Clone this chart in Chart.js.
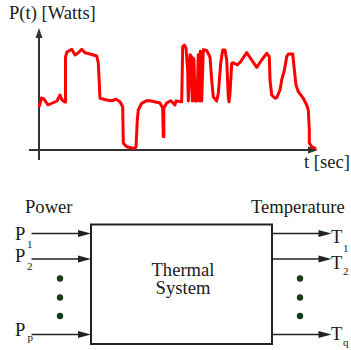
<!DOCTYPE html>
<html>
<head>
<meta charset="utf-8">
<title>Thermal System</title>
<script src="https://cdn.jsdelivr.net/npm/chart.js"></script>
<style>
  body { margin: 0; background: #fff; }
  #wrap { position: relative; width: 351px; height: 350px; }
  #diagram, #chart { position: absolute; left: 0; top: 0; }
  #diagram text { font-family: 'Liberation Serif', 'Times New Roman', Times, serif; fill: #1a1a1a; }
  .big { font-size: 18.6px; }
  .sub { font-size: 11px; }
</style>
</head>
<body>
<div id="wrap">
  <svg id="diagram" width="351" height="350">
    <!-- axis labels of the power trace -->
    <text class="big" x="9" y="18.5">P(t) [Watts]</text>
    <text class="big" x="304" y="167.5">t [sec]</text>

    <!-- block diagram -->
    <text class="big" x="25" y="213">Power</text>
    <text class="big" x="251" y="213">Temperature</text>
    <rect x="91" y="224.5" width="181" height="119.5" fill="none" stroke="#222" stroke-width="2"/>
    <text class="big" x="183" y="276" text-anchor="middle">Thermal</text>
    <text class="big" x="183" y="293.5" text-anchor="middle">System</text>
    <g id="arrows"></g>

    <text class="big" x="15" y="239.5">P</text><text class="sub" x="27" y="248">1</text>
    <text class="big" x="15" y="262">P</text><text class="sub" x="27" y="269.5">2</text>
    <text class="big" x="15" y="335.5">P</text><text class="sub" x="27.5" y="341">p</text>

    <text class="big" x="331" y="242.5">T</text><text class="sub" x="343" y="252">1</text>
    <text class="big" x="331" y="269">T</text><text class="sub" x="343" y="275">2</text>
    <text class="big" x="331" y="340">T</text><text class="sub" x="343" y="346">q</text>
  </svg>
  <canvas id="chart" width="351" height="175"></canvas>
</div>

<script>
  // power trace (t in px-like units, P in px-like units)
  var timeSec = [0.3, 2.5, 5, 9, 18, 21, 23, 26, 26.5, 28,
    32.7, 36, 39, 42.7, 46, 51, 57.7, 59.3, 61, 67.7,
    72.7, 77, 81, 83.7, 84.3, 87.7, 94.3, 97, 98.3, 99.3,
    102.7, 107.7, 111, 121, 123.7, 124.3, 124.8, 127.7, 131.7, 136,
    137, 142.7, 143.7, 145.3, 147, 148.7, 149.3, 151, 152, 153.3,
    154, 155, 156, 158, 159.3, 160, 160.7, 161.3, 162.7, 164.3,
    167.7, 171, 172.7, 174.3, 177.7, 179.3, 181.7, 183.7, 186, 187.7,
    189.3, 190, 191, 192.7, 194.3, 198.3, 201.7, 207.7, 212.7, 217.7,
    222.7, 227.7, 230.3, 231, 232.7, 236, 237.7, 241, 242.7, 245,
    246, 247.7, 249.3, 253.7, 255, 257, 259.3, 264.3, 267.7, 269.3,
    270.3, 270.3, 272.7, 276];
  var powerW = [44, 52, 51, 45, 49, 55, 50, 48, 93, 98,
    100.7, 95, 97, 100.7, 97.3, 96, 94, 87, 51.7, 50,
    49.3, 50.7, 48.3, 43.3, 6.7, 3.3, 1.7, 2.7, 30, 40,
    46.7, 49.3, 49.3, 47, 42, 13.3, 42, 47, 49.3, 45,
    49, 48.3, 103.5, 105, 102, 79, 49, 95.3, 94, 49,
    92, 90, 49, 49, 95.3, 94, 49, 98.7, 49, 100.3,
    99.5, 93, 70, 53, 49, 56.7, 86.7, 100, 100, 90,
    53.3, 48.3, 56.7, 86.7, 87.3, 85, 88.3, 97.3, 90, 82.7,
    90, 96.7, 93.3, 70, 55, 51.7, 52.3, 60, 70, 78.3,
    83.3, 93.3, 96, 96, 83.3, 65, 58.3, 51.7, 45, 40,
    20, 7, 3.3, 1.7];

  // block diagram rows
  var inputRows = [233.5, 259, 334.5];
  var outputRows = [233.5, 259, 334.5];
  var dotRows = [278.5, 297.5, 316];

  var svgNS = 'http://www.w3.org/2000/svg';
  var g = document.getElementById('arrows');
  function add(tag, attrs) {
    var el = document.createElementNS(svgNS, tag);
    for (var k in attrs) el.setAttribute(k, attrs[k]);
    g.appendChild(el);
  }
  function arrow(x1, x2, y) {
    add('line', { x1: x1, y1: y, x2: x2 - 12, y2: y, stroke: '#222', 'stroke-width': 1.5 });
    add('polygon', { points: (x2 - 13) + ',' + (y - 3.5) + ' ' + x2 + ',' + y + ' ' + (x2 - 13) + ',' + (y + 3.5), fill: '#222' });
  }
  inputRows.forEach(function (y) { arrow(31.5, 91, y); });
  outputRows.forEach(function (y) { arrow(272, 331.5, y); });
  dotRows.forEach(function (y) {
    add('circle', { cx: 60, cy: y, r: 3.2, fill: '#173f17' });
    add('circle', { cx: 300, cy: y, r: 3.2, fill: '#173f17' });
  });

  // axes with arrowheads, drawn from the scales
  var arrowAxes = {
    id: 'arrowAxes',
    beforeDatasetsDraw: function (chart) {
      var ctx = chart.ctx;
      var x0 = chart.scales.x.getPixelForValue(0);
      var y0 = chart.scales.y.getPixelForValue(0);
      var yTip = chart.scales.y.getPixelForValue(122);
      var xTip = chart.scales.x.getPixelForValue(279);
      ctx.save();
      ctx.strokeStyle = '#333';
      ctx.fillStyle = '#333';
      ctx.lineWidth = 2;
      ctx.beginPath();
      ctx.moveTo(x0, y0 + 10);
      ctx.lineTo(x0, yTip + 8);
      ctx.moveTo(x0 - 10, y0);
      ctx.lineTo(xTip - 8, y0);
      ctx.stroke();
      ctx.beginPath();
      ctx.moveTo(x0, yTip);
      ctx.lineTo(x0 - 3.5, yTip + 10);
      ctx.lineTo(x0 + 3.5, yTip + 10);
      ctx.closePath();
      ctx.fill();
      ctx.beginPath();
      ctx.moveTo(xTip, y0);
      ctx.lineTo(xTip - 10, y0 - 3.5);
      ctx.lineTo(xTip - 10, y0 + 3.5);
      ctx.closePath();
      ctx.fill();
      ctx.restore();
    }
  };

  var points = timeSec.map(function (t, i) { return { x: t, y: powerW[i] }; });

  new Chart(document.getElementById('chart'), {
    type: 'line',
    data: {
      datasets: [{
        data: points,
        borderColor: '#ff0000',
        borderWidth: 3,
        pointRadius: 0,
        tension: 0,
        borderJoinStyle: 'round',
        borderCapStyle: 'round',
        fill: false,
        clip: false
      }]
    },
    options: {
      responsive: false,
      animation: false,
      layout: { padding: { left: 39, right: 32, top: 25, bottom: 25 } },
      plugins: { legend: { display: false }, tooltip: { enabled: false } },
      scales: {
        x: { type: 'linear', min: 0, max: 280, display: false },
        y: { type: 'linear', min: 0, max: 125, display: false }
      }
    },
    plugins: [arrowAxes]
  });
</script>
</body>
</html>
